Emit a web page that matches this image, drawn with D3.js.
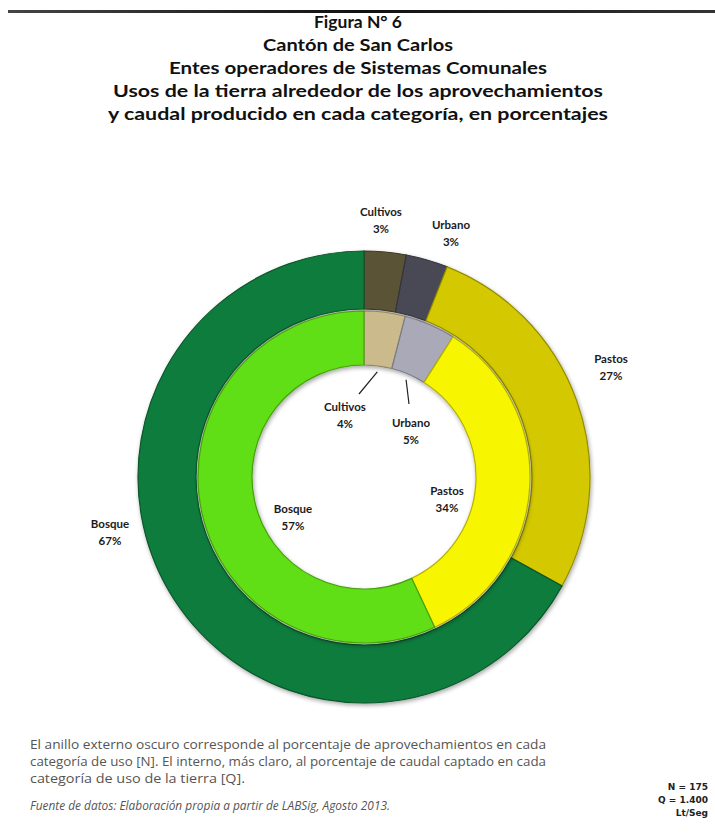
<!DOCTYPE html>
<html><head><meta charset="utf-8">
<script src="https://cdn.jsdelivr.net/npm/d3@7"></script>
<style>
html,body{margin:0;padding:0;background:#fff;}
svg{display:block;}
</style></head>
<body>
<script>
// ---- data ----
const categories = ["Cultivos", "Urbano", "Pastos", "Bosque"];
const outerValues = [3, 3, 27, 67];   // % aprovechamientos [N]
const innerValues = [4, 5, 34, 57];   // % caudal [Q]
const outerColors = ["#5a5236", "#4a4a57", "#d4c900", "#0b7c3c"];
const innerColors = ["#cbbb8c", "#a9a9b8", "#f8f500", "#60de12"];
const titleLines = [
  "Figura N° 6",
  "Cantón de San Carlos",
  "Entes operadores de Sistemas Comunales",
  "Usos de la tierra alrededor de los aprovechamientos",
  "y caudal producido en cada categoría, en porcentajes"
];
const noteLines = [
  "El anillo externo oscuro corresponde al porcentaje de aprovechamientos en cada",
  "categoría de uso [N].  El interno, más claro, al porcentaje de caudal captado en cada",
  "categoría de uso de la tierra [Q]."
];
const sourceText = "Fuente de datos: Elaboración propia a partir de LABSig, Agosto 2013.";
const totals = ["N = 175", "Q = 1.400", "Lt/Seg"];

// ---- layout ----
const W = 715, H = 835;
const cx = 364, cy = 477;
const svg = d3.select("body").append("svg").attr("width", W).attr("height", H);
const defs = svg.append("defs");
const f = defs.append("filter").attr("id", "sh").attr("x", "-20%").attr("y", "-20%").attr("width", "140%").attr("height", "140%");
f.append("feDropShadow").attr("dx", 1).attr("dy", 2).attr("stdDeviation", 2).attr("flood-color", "#000").attr("flood-opacity", 0.35);

// top rule
const lg = defs.append("linearGradient").attr("id", "rule");
lg.append("stop").attr("offset", "0%").attr("stop-color", "#444");
lg.append("stop").attr("offset", "50%").attr("stop-color", "#111");
lg.append("stop").attr("offset", "100%").attr("stop-color", "#333");
svg.append("rect").attr("x", 8).attr("y", 10).attr("width", 707).attr("height", 3).attr("fill", "url(#rule)");

// title
const titleWidths = [88, 190, 378, 490, 500];
svg.append("g").selectAll("text").data(titleLines).join("text")
  .attr("x", 358).attr("y", (d, i) => 28 + i * 23)
  .attr("text-anchor", "middle")
  .attr("font-family", "Lato, 'Open Sans', sans-serif")
  .attr("font-weight", 700).attr("font-size", 17).attr("fill", "#111")
  .attr("textLength", (d, i) => titleWidths[i]).attr("lengthAdjust", "spacingAndGlyphs")
  .text(d => d);

// rings
const pie = d3.pie().sort(null).value(d => d.v);
const outerData = pie(categories.map((c, i) => ({c, v: outerValues[i], col: outerColors[i]})));
const innerData = pie(categories.map((c, i) => ({c, v: innerValues[i], col: innerColors[i]})));
const outerArc = d3.arc().innerRadius(168).outerRadius(226);
const innerArc = d3.arc().innerRadius(112).outerRadius(166);

const g = svg.append("g").attr("transform", `translate(${cx},${cy})`);
const go = g.append("g").attr("filter", "url(#sh)");
go.selectAll("path").data(outerData).join("path")
  .attr("d", outerArc).attr("fill", d => d.data.col)
  .attr("stroke", d => d3.color(d.data.col).darker(1)).attr("stroke-width", 1.2);
const gi = g.append("g").attr("filter", "url(#sh)");
gi.selectAll("path").data(innerData).join("path")
  .attr("d", innerArc).attr("fill", d => d.data.col)
  .attr("stroke", d => d3.color(d.data.col).darker(0.9)).attr("stroke-width", 1.2);

// labels
const lblFont = "Lato, 'Open Sans', sans-serif";
const outerLabelPos = [[381, 212], [451, 225], [611, 359], [110, 524]];
const innerLabelPos = [[345, 407], [411, 423], [447, 491], [293, 509]];
function labels(data, pos) {
  const lg = svg.append("g");
  data.forEach((d, i) => {
    const t = lg.append("text").attr("x", pos[i][0]).attr("y", pos[i][1] + 4)
      .attr("text-anchor", "middle").attr("font-family", lblFont)
      .attr("font-weight", 700).attr("font-size", 11.5).attr("fill", "#1b1b1b");
    t.append("tspan").attr("x", pos[i][0]).text(d.data.c);
    t.append("tspan").attr("x", pos[i][0]).attr("dy", 17).text(d.data.v + "%");
  });
}
labels(outerData, outerLabelPos);
labels(innerData, innerLabelPos);

// leader lines for the small inner slices
const leaderEnds = [[359, 394], [409, 404]];
[0, 1].forEach(i => {
  const a = (innerData[i].startAngle + innerData[i].endAngle) / 2;
  const r = 106;
  svg.append("line")
    .attr("x1", cx + r * Math.sin(a)).attr("y1", cy - r * Math.cos(a))
    .attr("x2", leaderEnds[i][0]).attr("y2", leaderEnds[i][1])
    .attr("stroke", "#222").attr("stroke-width", 1.2);
});

// notes
const noteWidths = [516, 516, 215];
svg.append("g").selectAll("text").data(noteLines).join("text")
  .attr("x", 30).attr("y", (d, i) => 749 + i * 17)
  .attr("font-family", "'Open Sans', sans-serif").attr("font-size", 12.5)
  .attr("fill", "#555")
  .attr("textLength", (d, i) => noteWidths[i]).attr("lengthAdjust", "spacingAndGlyphs")
  .text(d => d);

svg.append("text").attr("x", 30).attr("y", 810)
  .attr("font-family", "'Open Sans', sans-serif").attr("font-size", 12.5)
  .attr("font-style", "italic").attr("fill", "#555")
  .attr("textLength", 360).attr("lengthAdjust", "spacingAndGlyphs")
  .text(sourceText);

svg.append("g").selectAll("text").data(totals).join("text")
  .attr("x", 708).attr("y", (d, i) => 790 + i * 13)
  .attr("text-anchor", "end")
  .attr("font-family", "'DejaVu Sans', sans-serif").attr("font-weight", 700)
  .attr("font-size", 9).attr("fill", "#222")
  .text(d => d);
</script>
</body></html>
